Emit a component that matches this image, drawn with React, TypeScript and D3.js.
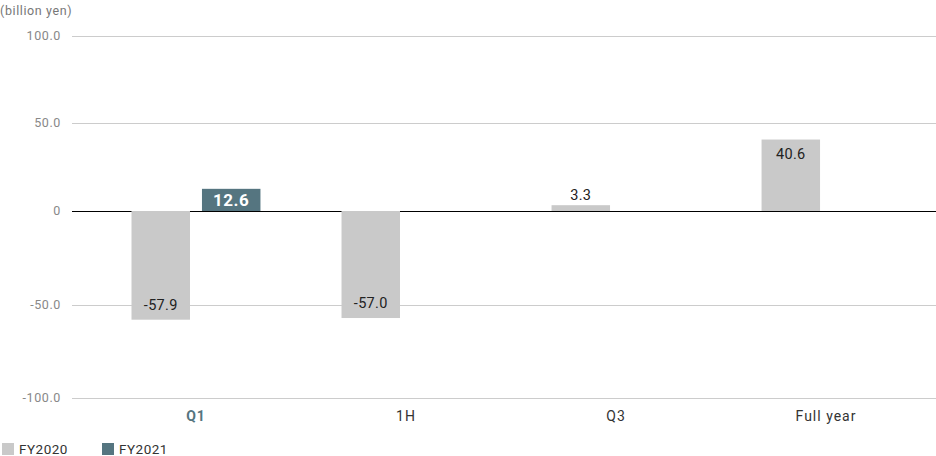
import React, { useEffect } from "react";
import * as d3 from "d3";

const categories = ["Q1", "1H", "Q3", "Full year"];
const seriesNames = ["FY2020", "FY2021"];
const fy2020 = [-57.9, -57.0, 3.3, 40.6];
const fy2021: (number | null)[] = [12.6, null, null, null];
const yTicks = [100, 50, 0, -50, -100];
const yTickLabels = ["100.0", "50.0", "0", "-50.0", "-100.0"];
const highlighted = "Q1";

const W = 936;
const H = 456;
const colors = ["#c9c9c9", "#557580"];
const font = "Roboto, 'Noto Sans', sans-serif";

export default function App() {
  useEffect(() => {
    document.body.style.margin = "0";
  }, []);

  const y = d3
    .scaleLinear()
    .domain([-100, -50, 0, 50, 100])
    .range([398, 305, 211, 123, 36]);
  const x0 = d3.scaleBand<string>().domain(categories).range([131.5, 890.5]).paddingInner(0.386);
  const x1 = d3.scaleBand<string>().domain(seriesNames).range([0, x0.bandwidth()]).paddingInner(0.17);
  const gridLeft = 72;

  const series = [fy2020, fy2021];

  return (
    <svg width={W} height={H} style={{ position: "absolute", left: 0, top: 0 }} fontFamily={font}>
      <text x={0} y={15} fontSize={12.5} fill="#777" letterSpacing={0.6}>(billion yen)</text>
      {yTicks.map((t, i) => (
        <g key={t}>
          <line
            x1={gridLeft}
            x2={W}
            y1={Math.round(y(t)) + 0.5}
            y2={Math.round(y(t)) + 0.5}
            stroke={t === 0 ? "#000" : "#cccccc"}
            strokeWidth={1}
            shapeRendering="crispEdges"
          />
          <text x={61} y={y(t) + 4} fontSize={12.5} fill="#888" textAnchor="end" letterSpacing={0.6}>
            {yTickLabels[i]}
          </text>
        </g>
      ))}
      {series.map((vals, si) =>
        vals.map((v, ci) => {
          if (v === null) return null;
          const cx = (x0(categories[ci]) as number) + (x1(seriesNames[si]) as number);
          const bw = x1.bandwidth();
          const top = Math.min(y(v), y(0));
          const h = Math.abs(y(v) - y(0));
          let label: React.ReactNode;
          if (si === 1) {
            label = (
              <text x={cx + bw / 2} y={top + h / 2 + 6} textAnchor="middle" fontSize={17} fontWeight="bold" fill="#fff" letterSpacing={0.5}>
                {v.toFixed(1)}
              </text>
            );
          } else if (v < 0) {
            label = (
              <text x={cx + bw / 2} y={y(v) - 10} textAnchor="middle" fontSize={14.5} fill="#222" letterSpacing={0.3}>
                {v.toFixed(1)}
              </text>
            );
          } else if (h > 25) {
            label = (
              <text x={cx + bw / 2} y={top + 19} textAnchor="middle" fontSize={14.5} fill="#222" letterSpacing={0.3}>
                {v.toFixed(1)}
              </text>
            );
          } else {
            label = (
              <text x={cx + bw / 2} y={top - 5} textAnchor="middle" fontSize={14.5} fill="#222" letterSpacing={0.3}>
                {v.toFixed(1)}
              </text>
            );
          }
          return (
            <g key={`${si}-${ci}`}>
              <rect x={cx} y={top} width={bw} height={h} fill={colors[si]} />
              {label}
            </g>
          );
        })
      )}
      {categories.map((c) => (
        <text
          key={c}
          x={(x0(c) as number) + x0.bandwidth() / 2}
          y={421}
          textAnchor="middle"
          fontSize={14}
          letterSpacing={1}
          fontWeight={c === highlighted ? "bold" : "normal"}
          fill={c === highlighted ? "#557580" : "#333"}
        >
          {c}
        </text>
      ))}
      {seriesNames.map((s, i) => (
        <g key={s} transform={`translate(${i * 100 + 2},0)`}>
          <rect x={0} y={443} width={12} height={12} fill={colors[i]} />
          <text x={17} y={454} fontSize={13.5} fill="#333" letterSpacing={0.5}>{s}</text>
        </g>
      ))}
    </svg>
  );
}
